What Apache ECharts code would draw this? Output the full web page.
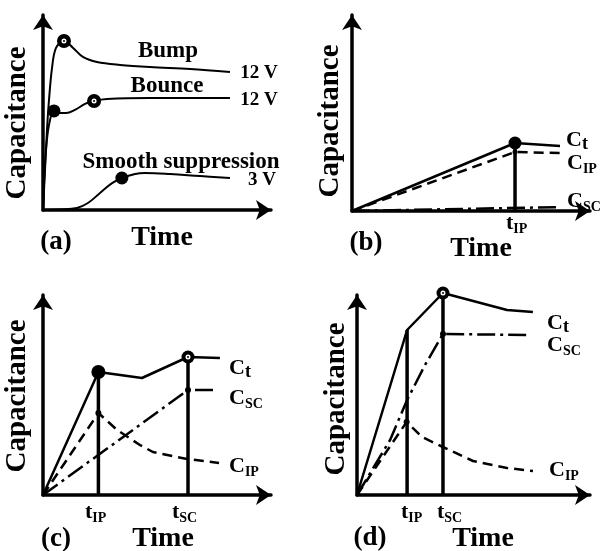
<!DOCTYPE html>
<html>
<head>
<meta charset="utf-8">
<script src="https://cdn.jsdelivr.net/npm/echarts@6/dist/echarts.min.js"></script>
<style>html,body{margin:0;padding:0;background:#fff}#c{width:602px;height:551px}</style>
</head>
<body>
<div id="c"></div>
<script>
// ---------- Panel (a) ----------
const aBump = [[0,0],[0.88,20.5],[1.75,41],[2.63,56.4],[3.95,72.8],[5.7,83.1],[9.2,86.7],[13.2,83.1],[17.5,78.5],[23.7,75.9],[33.8,74.4],[46.9,73.3],[64.5,72.3],[82,70.8]];
const aBounce = [[0,0],[0.44,12.8],[1.32,30.8],[2.63,43.6],[4.82,50.8],[7.46,49.7],[10.1,49.7],[14,51.3],[18.4,54.4],[22.4,55.9],[28.1,56.9],[46.9,57.4],[82,57.4]];
const aSmooth = [[0,0],[7.46,0.26],[14.9,1.03],[19.7,3.59],[25,8.72],[30.3,13.8],[34.6,16.4],[40.4,18.5],[44.7,19],[55.7,18.5],[68.9,17.4],[82,16.4]];
const aDots = [[4.82,50.8],[34.6,16.4]];
const aRings = [[9.2,86.7],[22.4,55.9]];
// ---------- Panel (b) ----------
const bTotal = [[0,0],[68.5,34.7],[87.4,33.2]];
const bIP = [[0,0],[68.5,30.1],[87.4,29.6]];
const bSC = [[0,0],[87.4,2.0]];
const bTimes = [[68.5,34.7]];
const bBig = [[68.5,34.7]];
const bSmall = [[68.5,30.1]];
// ---------- Panel (c) ----------
const cTotal = [[0,0],[24.3,61.5],[43.4,58.5],[63.6,69],[77.6,68.5]];
const cSC = [[0,0],[63.6,52.5],[74.6,52.5]];
const cIP = [[0,0],[24.3,41],[32.5,32.5],[42.5,25],[48.2,21.5],[63.2,18],[77.2,16]];
const cTimes = [[24.3,61.5],[63.6,69]];
const cBig = [[24.3,61.5]];
const cRings = [[63.6,69]];
const cSmall = [[24.3,41],[63.6,52.5]];
// ---------- Panel (d) ----------
const dTotal = [[0,0],[21.5,82.5],[36.9,101],[64.4,92.5],[75.5,91.5]];
const dSC = [[0,0],[14.2,27.5],[21.5,47.5],[29.2,65],[36.9,80.5],[72.96,80]];
const dIP = [[0,0],[21.3,36.5],[27.9,29],[36.9,24],[49.8,17],[64.4,13.5],[75.5,12]];
const dTimes = [[21.5,82.5],[36.9,101]];
const dRings = [[36.9,101]];
const dSmall = [[21.3,36.5],[36.9,80.5]];

const FF = '"Liberation Serif","Times New Roman",serif';
const grids = [
  {left:43, top:15, width:228, height:195},
  {left:352, top:15, width:238, height:196},
  {left:43, top:295, width:228, height:200},
  {left:357, top:295, width:233, height:200}
];
function axis(i){
  return {gridIndex:i, type:'value', min:0, max:100,
    axisLine:{show:true, onZero:false, symbol:['none','arrow'], symbolSize:[15,15], lineStyle:{color:'#000', width:3.5}},
    axisTick:{show:false}, axisLabel:{show:false}, splitLine:{show:false}};
}
const DASH = [10,6];
const DASHDOT = [18,5,3,5];
function line(g, data, width, type, smooth){
  return {type:'line', xAxisIndex:g, yAxisIndex:g, data:data, symbol:'none', clip:false,
    smooth: smooth||false, silent:true, z:2,
    lineStyle:{color:'#000', width:width, type:type||'solid', opacity:1}};
}
function vlines(g, pts){
  return pts.map(p => line(g, [[p[0],0],[p[0],p[1]]], 3.5, 'solid'));
}
function dots(g, data, size, color, z){
  return {type:'scatter', xAxisIndex:g, yAxisIndex:g, data:data, symbol:'circle', symbolSize:size,
    clip:false, silent:true, z:z, itemStyle:{color:color, opacity:1}};
}
function rings(g, data, size){
  return [dots(g,data,size,'#000',5), dots(g,data,5,'#fff',6), dots(g,data,2,'#000',7)];
}
const series = [
  line(0, aBump, 2, 'solid', 0.35),
  line(0, aBounce, 2, 'solid', 0.35),
  line(0, aSmooth, 2, 'solid', 0.4),
  dots(0, aDots, 13, '#000', 5),
  ...rings(0, aRings, 14),
  line(1, bTotal, 2.5),
  line(1, bIP, 2.5, DASH),
  line(1, bSC, 2.5, DASHDOT),
  ...vlines(1, bTimes),
  dots(1, bBig, 13, '#000', 5),
  dots(1, bSmall, 5, '#000', 5),
  line(2, cTotal, 2.5),
  line(2, cSC, 2.5, DASHDOT),
  line(2, cIP, 2.5, DASH),
  ...vlines(2, cTimes),
  dots(2, cBig, 14, '#000', 5),
  ...rings(2, cRings, 13),
  dots(2, cSmall, 6, '#000', 5),
  line(3, dTotal, 2.5),
  line(3, dSC, 2.5, DASHDOT),
  line(3, dIP, 2.5, DASH),
  ...vlines(3, dTimes),
  ...rings(3, dRings, 13),
  dots(3, dSmall, 6, '#000', 5)
];

const richSub = {
  c:{fontFamily:FF, fontWeight:'bold', fontSize:22, fill:'#000', verticalAlign:'bottom', padding:[0,0,2,0]},
  s:{fontFamily:FF, fontWeight:'bold', fontSize:14, fill:'#000', verticalAlign:'bottom'},
  t:{fontFamily:FF, fontWeight:'bold', fontSize:18, fill:'#000', verticalAlign:'bottom'}
};
function txt(x, y, s, size, align, rot){
  return {type:'text', x:x, y:y, rotation: rot||0, silent:true,
    style:{text:s, fill:'#000', font:'bold '+size+'px '+FF, textAlign:align||'center', textVerticalAlign:'middle'}};
}
function sub(x, y, s){
  return {type:'text', x:x, y:y, silent:true,
    style:{text:s, rich:richSub, font:'bold 22px '+FF, fill:'#000', textAlign:'left', textVerticalAlign:'middle'}};
}
const graphic = [
  // axis titles
  txt(18, 123, 'Capacitance', 29, 'center', Math.PI/2),
  txt(331, 121, 'Capacitance', 29, 'center', Math.PI/2),
  txt(18, 396, 'Capacitance', 29, 'center', Math.PI/2),
  txt(337, 399, 'Capacitance', 29, 'center', Math.PI/2),
  txt(162, 238, 'Time', 28),
  txt(481, 249, 'Time', 28),
  txt(163, 539, 'Time', 28),
  txt(483, 539, 'Time', 28),
  txt(56, 242, '(a)', 27),
  txt(366, 243, '(b)', 27),
  txt(56, 539, '(c)', 27),
  txt(370, 538, '(d)', 27),
  // panel (a) curve labels
  txt(168, 51, 'Bump', 23),
  txt(167, 86, 'Bounce', 23),
  txt(181, 162, 'Smooth suppression', 23),
  txt(259, 73, '12 V', 19),
  txt(259, 100, '12 V', 19),
  txt(262, 180, '3 V', 19),
  // panel (b)
  sub(566, 141, '{c|C}{t|t}'),
  sub(567, 164, '{c|C}{s|IP}'),
  sub(567, 202, '{c|C}{s|SC}'),
  sub(506, 224, '{c|t}{s|IP}'),
  // panel (c)
  sub(229, 369, '{c|C}{t|t}'),
  sub(229, 399, '{c|C}{s|SC}'),
  sub(229, 467, '{c|C}{s|IP}'),
  sub(85, 513, '{c|t}{s|IP}'),
  sub(172, 513, '{c|t}{s|SC}'),
  // panel (d)
  sub(547, 324, '{c|C}{t|t}'),
  sub(547, 346, '{c|C}{s|SC}'),
  sub(549, 471, '{c|C}{s|IP}'),
  sub(401, 513, '{c|t}{s|IP}'),
  sub(437, 513, '{c|t}{s|SC}')
];

const chart = echarts.init(document.getElementById('c'), null, {renderer:'canvas'});
chart.setOption({
  backgroundColor:'#fff',
  animation:false,
  grid: grids,
  xAxis: [0,1,2,3].map(axis),
  yAxis: [0,1,2,3].map(axis),
  series: series,
  graphic: graphic
});
</script>
</body>
</html>
